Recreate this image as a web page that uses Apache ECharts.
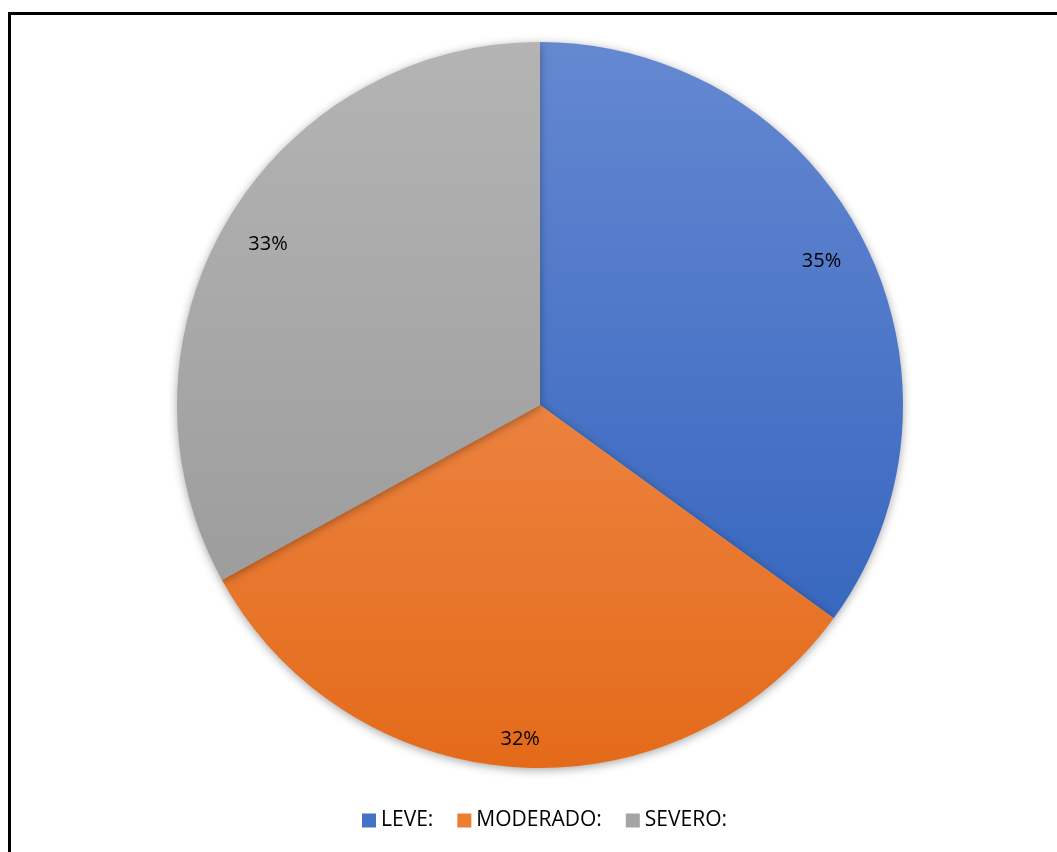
<!DOCTYPE html>
<html>
<head>
<meta charset="utf-8">
<script src="https://cdn.jsdelivr.net/npm/echarts@6/dist/echarts.min.js"></script>
<style>
  html, body { margin: 0; padding: 0; background: #fff; overflow: hidden; }
  #frame {
    position: absolute; left: 8px; top: 12px; width: 1200px; height: 1000px;
    border-top: 3px solid #000; border-left: 3px solid #000;
  }
  #chart { position: absolute; left: 0; top: 0; width: 1057px; height: 852px; }
</style>
</head>
<body>
<div id="frame"></div>
<div id="chart"></div>
<script>
  // categories and shares (%)
  var categories = ['LEVE:', 'MODERADO:', 'SEVERO:'];
  var values = [35, 32, 33];
  // top / bottom gradient colours per slice
  var topColors = ['#6588d1', '#f49a64', '#b4b4b4'];
  var bottomColors = ['#2c5fbb', '#e46a19', '#959595'];

  var chart = echarts.init(document.getElementById('chart'));

  function grad(i) {
    return new echarts.graphic.LinearGradient(0, 40, 0, 770, [
      { offset: 0, color: topColors[i] },
      { offset: 1, color: bottomColors[i] }
    ], true);
  }

  var sliceData = categories.map(function (name, i) {
    return { name: name, value: values[i], itemStyle: { color: grad(i) } };
  });
  var labelData = categories.map(function (name, i) {
    var d = { name: name, value: values[i] };
    if (i === 1) d.label = { offset: [0, 19] };
    return d;
  });

  chart.setOption({
    animation: false,
    legend: {
      bottom: 16,
      left: 357,
      icon: 'rect',
      itemWidth: 14,
      itemHeight: 14,
      itemGap: 24,
      data: categories.map(function (c, i) {
        return { name: c, itemStyle: { color: ['#4472c4', '#ed7d31', '#a5a5a5'][i] } };
      }),
      textStyle: { fontFamily: 'Open Sans', fontSize: 21, color: '#000' }
    },
    series: [
      {
        type: 'pie',
        center: [540, 405],
        radius: [0, 363],
        startAngle: 90,
        clockwise: true,
        silent: true,
        label: { show: false },
        labelLine: { show: false },
        itemStyle: {
          borderWidth: 0,
          shadowBlur: 10,
          shadowColor: 'rgba(0,0,0,0.35)',
          shadowOffsetY: 2
        },
        data: sliceData
      },
      {
        type: 'pie',
        center: [540, 405],
        radius: [296, 330],
        startAngle: 90,
        clockwise: true,
        silent: true,
        itemStyle: { color: 'rgba(0,0,0,0)' },
        label: {
          show: true,
          position: 'inside',
          formatter: '{d}%',
          fontFamily: 'Open Sans',
          fontSize: 20,
          color: '#000'
        },
        labelLine: { show: false },
        data: labelData
      }
    ]
  });
</script>
</body>
</html>
